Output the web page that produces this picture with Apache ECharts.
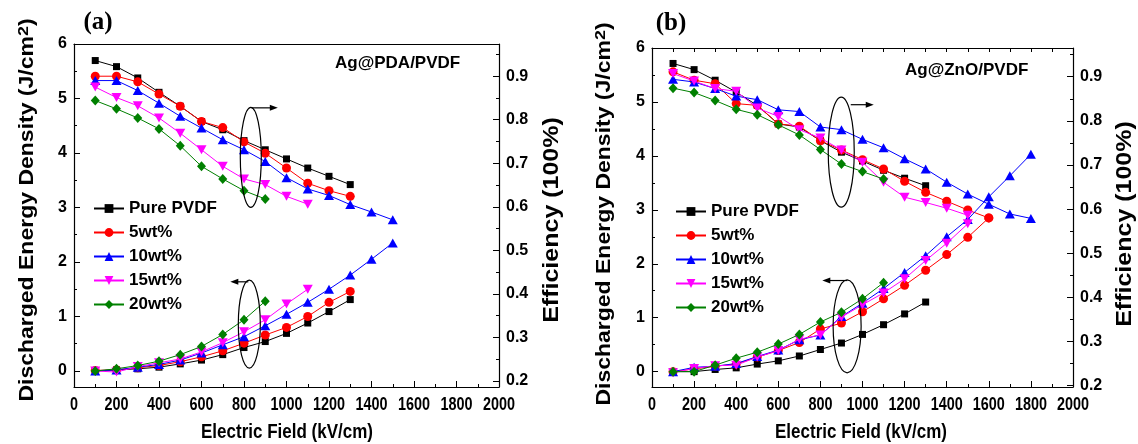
<!DOCTYPE html>
<html><head><meta charset="utf-8">
<script src="https://cdn.jsdelivr.net/npm/echarts@6/dist/echarts.min.js"></script>
<style>html,body{margin:0;padding:0;background:#fff}#c{width:1138px;height:444px}</style>
</head><body><div id="c"></div>
<script>
// ---------- data ----------
const fields = [100,200,300,400,500,600,700,800,900,1000,1100,1200,1300,1400,1500,1600,1700,1800];
const seriesNames = ['Pure PVDF','5wt%','10wt%','15wt%','20wt%'];

// Panel (a) Ag@PDA/PVDF – discharged energy density (J/cm2)
const aEnergyPure = [0.00,0.02,0.04,0.07,0.13,0.20,0.30,0.43,0.54,0.69,0.88,1.09,1.31];
const aEnergy5    = [0.01,0.02,0.06,0.10,0.17,0.26,0.37,0.51,0.66,0.80,1.00,1.26,1.46];
const aEnergy10   = [0.00,0.02,0.07,0.12,0.20,0.33,0.48,0.63,0.83,1.04,1.26,1.50,1.76,2.05,2.35];
const aEnergy15   = [0.00,-0.02,0.08,0.15,0.22,0.35,0.52,0.72,0.94,1.23,1.50];
const aEnergy20   = [0.00,0.04,0.10,0.18,0.30,0.45,0.67,0.94,1.28];
// Panel (a) efficiency
const aEffPure = [0.936,0.922,0.896,0.863,0.831,0.796,0.777,0.752,0.731,0.710,0.689,0.670,0.651];
const aEff5    = [0.900,0.900,0.887,0.859,0.831,0.796,0.782,0.749,0.723,0.689,0.654,0.637,0.624];
const aEff10   = [0.890,0.890,0.867,0.838,0.808,0.781,0.754,0.731,0.704,0.667,0.641,0.626,0.605,0.588,0.570];
const aEff15   = [0.875,0.851,0.832,0.804,0.769,0.731,0.693,0.664,0.651,0.624,0.606];
const aEff20   = [0.844,0.825,0.804,0.779,0.740,0.693,0.664,0.637,0.618];

// Panel (b) Ag@ZnO/PVDF – discharged energy density (J/cm2)
const bEnergyPure = [0.00,0.00,0.04,0.07,0.14,0.20,0.29,0.41,0.53,0.69,0.87,1.07,1.29];
const bEnergy5    = [0.00,0.05,0.10,0.14,0.27,0.39,0.54,0.79,0.90,1.11,1.35,1.60,1.88,2.17,2.49,2.85];
const bEnergy10   = [0.00,0.08,0.10,0.15,0.28,0.40,0.59,0.68,1.02,1.27,1.54,1.84,2.15,2.50,2.82,3.24,3.63,4.03];
const bEnergy15   = [-0.02,0.06,0.11,0.12,0.27,0.39,0.60,0.68,1.01,1.24,1.46,1.72,2.06,2.38,2.74];
const bEnergy20   = [0.00,0.00,0.12,0.25,0.36,0.51,0.69,0.92,1.10,1.35,1.65];
// Panel (b) efficiency
const bEffPure = [0.930,0.916,0.892,0.865,0.835,0.793,0.786,0.755,0.729,0.709,0.688,0.670,0.653];
const bEff5    = [0.911,0.892,0.884,0.839,0.835,0.793,0.788,0.755,0.734,0.712,0.691,0.663,0.638,0.618,0.598,0.580];
const bEff10   = [0.894,0.888,0.873,0.856,0.848,0.825,0.821,0.786,0.780,0.758,0.739,0.714,0.691,0.661,0.634,0.611,0.589,0.579];
const bEff15   = [0.907,0.890,0.873,0.867,0.829,0.810,0.780,0.761,0.734,0.706,0.661,0.627,0.615,0.602,0.586];
const bEff20   = [0.874,0.864,0.846,0.826,0.814,0.791,0.768,0.735,0.702,0.685,0.668];

// ticks
const xTicks = [0,200,400,600,800,1000,1200,1400,1600,1800,2000];
const xMinorTicks = [100,300,500,700,900,1100,1300,1500,1700,1900];
const energyTicks = [0,1,2,3,4,5,6];
const energyMinorTicks = [0.5,1.5,2.5,3.5,4.5,5.5];
const effTicks = [0.2,0.3,0.4,0.5,0.6,0.7,0.8,0.9];
const effMinorTicks = [0.25,0.35,0.45,0.55,0.65,0.75,0.85,0.95];

const panelEnergy = [[aEnergyPure,aEnergy5,aEnergy10,aEnergy15,aEnergy20],[bEnergyPure,bEnergy5,bEnergy10,bEnergy15,bEnergy20]];
const panelEff = [[aEffPure,aEff5,aEff10,aEff15,aEff20],[bEffPure,bEff5,bEff10,bEff15,bEff20]];
const panelLabels = ['(a)','(b)'];
const panelTitles = ['Ag@PDA/PVDF','Ag@ZnO/PVDF'];

// ---------- style / layout ----------
const SANS = '"Liberation Sans", Arial, sans-serif';
const colors = ['#000000','#ff0000','#0000ff','#ff00ff','#008000'];
const symbols = ['rect','circle','triangle','path://M0,0L10,0L5,9Z','diamond'];
const symbolSizes = [7,9,[10,9],[10,9],[9,10]];
const grids = [
  {left:74, right:639, top:44, bottom:57},
  {left:652, right:65, top:48, bottom:57}
];
const energyRange = [[-0.294,6],[-0.285,6]];
const effRange = [[0.186,0.974],[0.197,0.965]];
const topTicks = [false,true];
const layout = [
  {label:[98,23], title:[335,63], yTitle:[28,210], rTitle:[552,220], xTitle:[287,432], legend:[93,200]},
  {label:[671,24], title:[905,70], yTitle:[605,214], rTitle:[1125,224], xTitle:[861,432], legend:[675,203]}
];
const ovals = [
  {p:0, x:832, e:3.92, rx:10.5, ry:50, ax:1, ay:-49.5, len:26, dir:1},
  {p:0, x:825, e:0.86, rx:11, ry:44, ax:-1, ay:-42.3, len:18, dir:-1},
  {p:1, x:899, e:4.07, rx:13, ry:55, ax:9.5, ay:-47.4, len:23, dir:1},
  {p:1, x:927, e:0.84, rx:14, ry:46.5, ax:0.2, ay:-45.8, len:25, dir:-1}
];

const axisLineStyle = {color:'#000', width:1.2};
const xAxes = [], yAxes = [], series = [], legends = [];
for (let g = 0; g < 2; g++) {
  xAxes.push(
    {type:'value', gridIndex:g, min:0, max:2000, position:'bottom',
     axisLine:{onZero:false, lineStyle:axisLineStyle},
     axisTick:{inside:true, length:6, customValues:xTicks, lineStyle:{color:'#000'}},
     axisLabel:{show:false},
     splitLine:{show:false}},
    {type:'value', gridIndex:g, min:0, max:2000, position:'bottom',
     axisLine:{show:false, onZero:false},
     axisTick:{inside:true, length:3, customValues:xMinorTicks, lineStyle:{color:'#000'}},
     axisLabel:{show:false}, splitLine:{show:false}},
    {type:'value', gridIndex:g, min:0, max:2000, position:'top',
     axisLine:{onZero:false, lineStyle:axisLineStyle},
     axisTick:{show:topTicks[g], inside:true, length:4, customValues:xTicks.concat(xMinorTicks), lineStyle:{color:'#000'}},
     axisLabel:{show:false}, splitLine:{show:false}}
  );
  yAxes.push(
    {type:'value', gridIndex:g, min:energyRange[g][0], max:energyRange[g][1], position:'left',
     axisLine:{onZero:false, lineStyle:axisLineStyle},
     axisTick:{inside:true, length:6, customValues:energyTicks, lineStyle:{color:'#000'}},
     axisLabel:{customValues:energyTicks, margin:7, color:'#000', fontFamily:SANS, fontWeight:'bold', fontSize:16},
     splitLine:{show:false}},
    {type:'value', gridIndex:g, min:energyRange[g][0], max:energyRange[g][1], position:'left',
     axisLine:{show:false, onZero:false},
     axisTick:{inside:true, length:3, customValues:energyMinorTicks, lineStyle:{color:'#000'}},
     axisLabel:{show:false}, splitLine:{show:false}},
    {type:'value', gridIndex:g, min:effRange[g][0], max:effRange[g][1], position:'right',
     axisLine:{onZero:false, lineStyle:axisLineStyle},
     axisTick:{inside:true, length:6, customValues:effTicks, lineStyle:{color:'#000'}},
     axisLabel:{customValues:effTicks, margin:7, color:'#000', fontFamily:SANS, fontWeight:'bold', fontSize:16,
       formatter: v => Number(v).toFixed(1)},
     splitLine:{show:false}},
    {type:'value', gridIndex:g, min:effRange[g][0], max:effRange[g][1], position:'right',
     axisLine:{show:false, onZero:false},
     axisTick:{inside:true, length:3, customValues:effMinorTicks, lineStyle:{color:'#000'}},
     axisLabel:{show:false}, splitLine:{show:false}}
  );
  for (let s = 0; s < 5; s++) {
    const common = {
      type:'line', name:seriesNames[s], xAxisIndex:3*g,
      symbol:symbols[s], symbolSize:symbolSizes[s], showAllSymbol:true,
      lineStyle:{color:colors[s], width:1}, itemStyle:{color:colors[s]},
      animation:false, silent:true, z:2+s
    };
    series.push(Object.assign({}, common, {yAxisIndex:4*g,
      data: panelEnergy[g][s].map((v,i)=>[fields[i], v])}));
    series.push(Object.assign({}, common, {yAxisIndex:4*g+2,
      data: panelEff[g][s].map((v,i)=>[fields[i], v])}));
  }
  legends.push({data:seriesNames, orient:'vertical', left:layout[g].legend[0], top:layout[g].legend[1],
    padding:0, itemWidth:30, itemHeight:11, itemGap:7, selectedMode:false,
    textStyle:{color:'#000', fontFamily:SANS, fontWeight:'bold', fontSize:17, lineHeight:16}});
}

const chart = echarts.init(document.getElementById('c'), null, {renderer:'canvas'});
chart.setOption({
  animation:false,
  backgroundColor:'#fff',
  grid:grids,
  xAxis:xAxes, yAxis:yAxes, series:series, legend:legends
});

// ---------- tick labels (condensed), annotations & titles ----------
const graphics = [];
for (let g = 0; g < 2; g++) {
  const L = layout[g];
  xTicks.forEach(v => {
    const p = chart.convertToPixel({xAxisIndex:3*g, yAxisIndex:4*g}, [v, energyRange[g][0]]);
    graphics.push({type:'text', x:p[0], y:405, scaleX:0.8,
      style:{text:String(v), font:'bold 18px '+SANS, fill:'#000', align:'center', verticalAlign:'middle'}});
  });
  graphics.push({type:'text', x:L.label[0], y:L.label[1],
    style:{text:panelLabels[g], font:'bold 25px "Liberation Serif", "Times New Roman", serif', fill:'#000', align:'center', verticalAlign:'middle'}});
  graphics.push({type:'text', x:L.title[0], y:L.title[1],
    style:{text:panelTitles[g], font:'bold 17px '+SANS, fill:'#000', align:'left', verticalAlign:'middle'}});
  graphics.push({type:'text', x:L.yTitle[0], y:L.yTitle[1], rotation:Math.PI/2, scaleY:0.85,
    style:{text:'{a|Discharged Energy Density (J/cm}{s|2}{a|)}', align:'center', verticalAlign:'middle',
      rich:{a:{font:'bold 23px '+SANS, fill:'#000'}, s:{font:'bold 18px '+SANS, fill:'#000', verticalAlign:'top', padding:[0,0,10,0]}}}});
  graphics.push({type:'text', x:L.rTitle[0], y:L.rTitle[1], rotation:Math.PI/2, scaleY:0.85,
    style:{text:'Efficiency (100%)', font:'bold 25px '+SANS, fill:'#000', align:'center', verticalAlign:'middle'}});
  graphics.push({type:'text', x:L.xTitle[0], y:L.xTitle[1], scaleX:0.85,
    style:{text:'Electric Field (kV/cm)', font:'bold 20px '+SANS, fill:'#000', align:'center', verticalAlign:'middle'}});
}
ovals.forEach(o => {
  const c = chart.convertToPixel({xAxisIndex:3*o.p, yAxisIndex:4*o.p}, [o.x, o.e]);
  graphics.push({type:'ellipse', shape:{cx:c[0], cy:c[1], rx:o.rx, ry:o.ry},
    style:{fill:null, stroke:'#000', lineWidth:1.2}, z:10});
  const sx = c[0] + o.ax, sy = c[1] + o.ay, ex = sx + o.dir*o.len;
  graphics.push({type:'line', shape:{x1:sx, y1:sy, x2:ex - o.dir*6, y2:sy}, style:{stroke:'#000', lineWidth:1.2}, z:10});
  graphics.push({type:'polygon', shape:{points:[[ex,sy],[ex-o.dir*8,sy-3],[ex-o.dir*8,sy+3]]}, style:{fill:'#000'}, z:10});
});
chart.setOption({graphic:graphics});
</script>
</body></html>
